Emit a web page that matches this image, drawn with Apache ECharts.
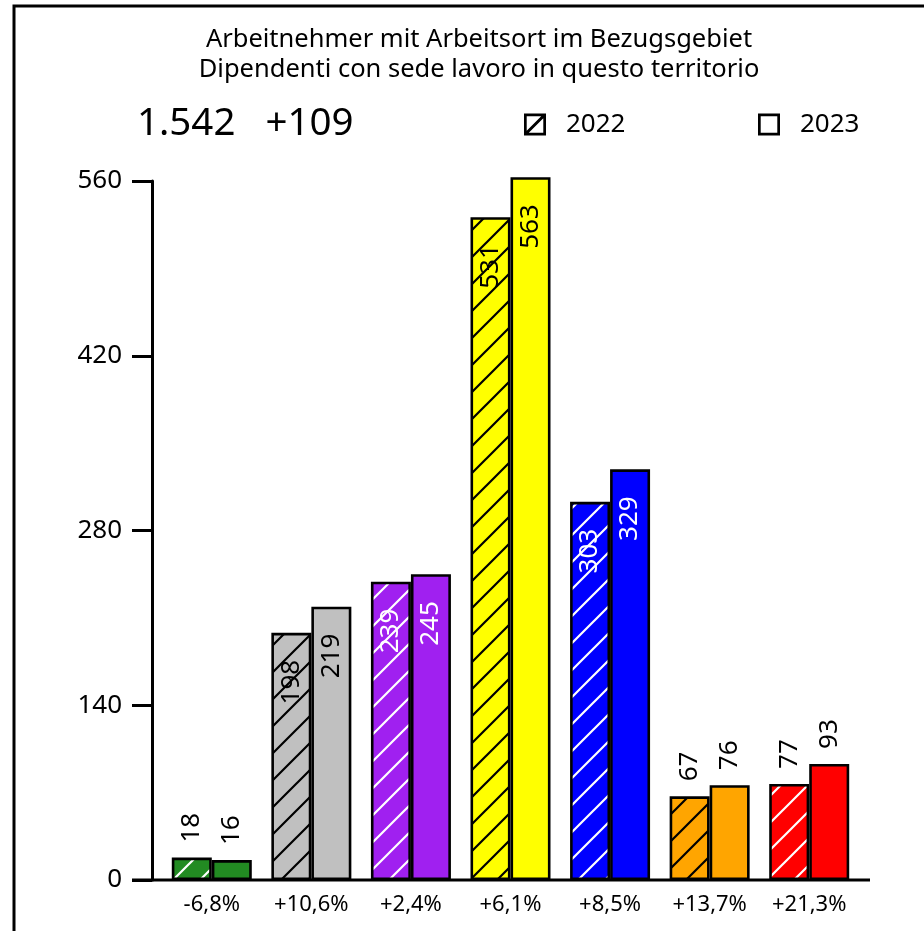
<!DOCTYPE html>
<html>
<head>
<meta charset="utf-8">
<script src="https://cdn.jsdelivr.net/npm/echarts@6/dist/echarts.min.js"></script>
<style>html,body{margin:0;padding:0;background:#fff}#c{width:924px;height:931px}</style>
</head>
<body>
<div id="c"></div>
<script>
const categories = ['-6,8%', '+10,6%', '+2,4%', '+6,1%', '+8,5%', '+13,7%', '+21,3%'];
const values2022 = [18, 198, 239, 531, 303, 67, 77];
const values2023 = [16, 219, 245, 563, 329, 76, 93];
const barColors = ['#228B22', '#C0C0C0', '#A020F0', '#FFFF00', '#0000FF', '#FFA500', '#FF0000'];
const hatchColors = ['#FFFFFF', '#000000', '#FFFFFF', '#000000', '#FFFFFF', '#000000', '#FFFFFF'];
const yTicks = [0, 140, 280, 420, 560];
const titleLines = ['Arbeitnehmer mit Arbeitsort im Bezugsgebiet', 'Dipendenti con sede lavoro in questo territorio'];
const totalText = '1.542   +109';
const legendNames = ['2022', '2023'];

const FONT = 'Noto Sans';

function hatch(bg, fg) {
  const s = 27;
  const c = document.createElement('canvas');
  c.width = s; c.height = s;
  const ctx = c.getContext('2d');
  ctx.fillStyle = bg; ctx.fillRect(0, 0, s, s);
  ctx.strokeStyle = fg; ctx.lineWidth = 2.2;
  ctx.beginPath();
  ctx.moveTo(-s, s); ctx.lineTo(s, -s);
  ctx.moveTo(0, s); ctx.lineTo(s, 0);
  ctx.moveTo(0, 2 * s); ctx.lineTo(2 * s, 0);
  ctx.stroke();
  return c;
}

function labelFor(v, i) {
  if (v >= 100) {
    return { show: true, position: 'insideTop', rotate: 90, align: 'right', verticalAlign: 'middle',
      distance: 27, color: hatchColors[i] === '#FFFFFF' ? '#fff' : '#000' };
  }
  return { show: true, position: 'top', rotate: 90, align: 'left', verticalAlign: 'middle', distance: 15, color: '#000' };
}

const ICON_RING = 'M0 0H22V22H0Z M2.7 2.7V19.3H19.3V2.7Z';
const ICON_HATCH = ICON_RING + ' M2.7 17.2L17.2 2.7L19.3 2.7L19.3 4.8L4.8 19.3L2.7 19.3Z';

const chart = echarts.init(document.getElementById('c'));
const option = {
  animation: false,
  textStyle: { fontFamily: FONT },
  title: [
    { text: titleLines.join('\n'), left: 479, top: 25, textAlign: 'center', padding: 0,
      textStyle: { fontFamily: FONT, fontSize: 25.5, fontWeight: 'normal', lineHeight: 30, color: '#000' } },
    { text: totalText, left: 137, top: 105, padding: 0,
      textStyle: { fontFamily: FONT, fontSize: 38.5, fontWeight: 'normal', lineHeight: 38, color: '#000' } }
  ],
  legend: [
    { data: [{ name: legendNames[0], icon: 'path://' + ICON_HATCH, itemStyle: { color: '#000', borderWidth: 0 } }],
      left: 524, top: 111.5, padding: 0, itemWidth: 22, itemHeight: 22, selectedMode: false,
      textStyle: { fontFamily: FONT, fontSize: 26, lineHeight: 22, color: '#000', padding: [0, 0, 0, 15] } },
    { data: [{ name: legendNames[1], icon: 'path://' + ICON_RING, itemStyle: { color: '#000', borderWidth: 0 } }],
      left: 758, top: 111.5, padding: 0, itemWidth: 22, itemHeight: 22, selectedMode: false,
      textStyle: { fontFamily: FONT, fontSize: 26, lineHeight: 22, color: '#000', padding: [0, 0, 0, 15] } }
  ],
  grid: { left: 162, right: 65, top: 181, bottom: 51, containLabel: false },
  xAxis: {
    type: 'category', data: categories,
    axisLine: { show: false }, axisTick: { show: false },
    axisLabel: { fontFamily: FONT, fontSize: 22, color: '#000', margin: 14 }
  },
  yAxis: {
    type: 'value', min: yTicks[0], max: yTicks[yTicks.length - 1], interval: yTicks[1] - yTicks[0],
    offset: 10,
    axisLine: { show: true, lineStyle: { color: '#000', width: 3 } },
    axisTick: { show: true, length: 20, lineStyle: { color: '#000', width: 3 } },
    axisLabel: { fontFamily: FONT, fontSize: 26, color: '#000', margin: 30 },
    splitLine: { show: false }
  },
  series: [
    {
      name: legendNames[0], type: 'bar', barWidth: 40, barGap: '0%', clip: false,
      itemStyle: { color: { image: hatch('#FFFFFF', '#000000'), repeat: 'repeat' }, borderColor: '#000', borderWidth: 2.6 },
      label: { fontFamily: FONT, fontSize: 26 },
      data: values2022.map((v, i) => ({
        value: v,
        itemStyle: { color: { image: hatch(barColors[i], hatchColors[i]), repeat: 'repeat' } },
        label: labelFor(v, i)
      }))
    },
    {
      name: legendNames[1], type: 'bar', barWidth: 40, barGap: '0%', clip: false,
      itemStyle: { color: '#FFFFFF', borderColor: '#000', borderWidth: 2.6 },
      label: { fontFamily: FONT, fontSize: 26 },
      data: values2023.map((v, i) => ({
        value: v,
        itemStyle: { color: barColors[i] },
        label: labelFor(v, i)
      }))
    }
  ]
};
chart.setOption(option);
const y0 = chart.convertToPixel({ yAxisIndex: 0 }, 0);
chart.setOption({
  graphic: [
    { type: 'line', z: 100, shape: { x1: 132, y1: y0, x2: 870, y2: y0 }, style: { stroke: '#000', lineWidth: 3 } },
    { type: 'rect', z: 100, shape: { x: 14, y: 6, width: 1000, height: 1000 }, style: { stroke: '#000', lineWidth: 3, fill: 'none' } }
  ]
});
</script>
</body>
</html>
